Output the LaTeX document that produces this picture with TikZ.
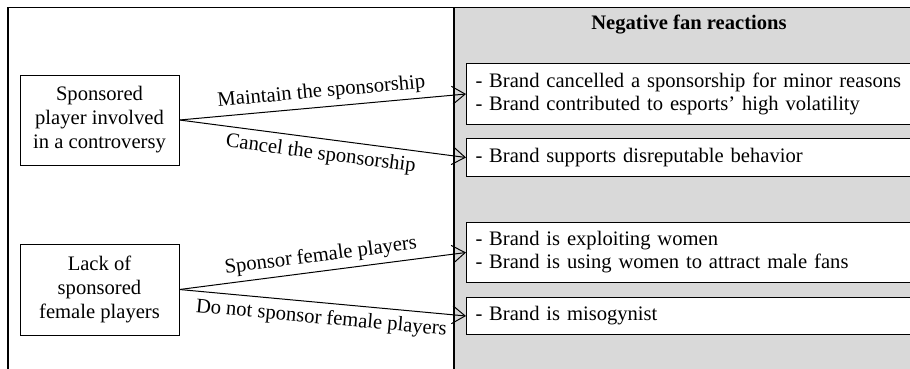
\documentclass[tikz,border=0pt]{standalone}
\usepackage{fontspec}
\setmainfont{Liberation Serif}
\usetikzlibrary{arrows.meta}
\definecolor{panelgray}{HTML}{D9D9D9}
\begin{document}
\begin{tikzpicture}[x=1pt,y=-1pt,
  every node/.style={font=\fontsize{20.6}{24}\selectfont},
  frame/.style={line width=1.2pt},
  cause/.style={draw, line width=1pt, fill=white, align=center,
    minimum width=159pt, minimum height=90pt, inner sep=0pt},
  reaction/.style={draw, line width=1pt, fill=white, anchor=north west,
    text width=440pt, align=left, inner xsep=9pt, inner ysep=0pt,
    font=\fontsize{20.6}{23}\selectfont},
  link/.style={line width=1pt, -{Straight Barb[length=13pt,width=18pt,line width=1pt]}},
  lblup/.style={sloped, above, inner sep=5pt},
  lbldown/.style={sloped, below, inner sep=6pt}]
\useasboundingbox (0,0) rectangle (910,368);
\clip (0,0) rectangle (910,368);

% outer frame and shaded reactions panel
\draw[frame] (8,7.5) rectangle (930,390);
\draw[frame, fill=panelgray] (454,7.5) rectangle (930,390);
\node[font=\fontsize{20.6}{24}\selectfont\bfseries] (title) at (689,25) {Negative fan reactions};

% triggering situations
\node[cause] (L1) at (99.5,120) {Sponsored\\player involved\\in a controversy};
\node[cause, minimum height=91pt] (L2) at (99.5,289.5) {Lack of\\sponsored\\female players};

% fan reactions
\node[reaction, minimum height=61pt] (R1) at (466,63)
  {- Brand cancelled a sponsorship for minor reasons\\- Brand contributed to esports’ high volatility};
\node[reaction, minimum height=38pt] (R2) at (466,138)
  {- Brand supports disreputable behavior};
\node[reaction, minimum height=60pt] (R3) at (466,222)
  {- Brand is exploiting women\\- Brand is using women to attract male fans};
\node[reaction, minimum height=37pt] (R4) at (466,297)
  {- Brand is misogynist};

% brand decisions
\draw[link] (L1.east) -- node[lblup] {Maintain the sponsorship} (R1.west);
\draw[link] (L1.east) -- node[lbldown] {Cancel the sponsorship} (R2.west);
\draw[link] (L2.east) -- node[lblup] {Sponsor female players} (R3.west);
\draw[link] (L2.east) -- node[lbldown] {Do not sponsor female players} (R4.west);
\end{tikzpicture}
\end{document}
